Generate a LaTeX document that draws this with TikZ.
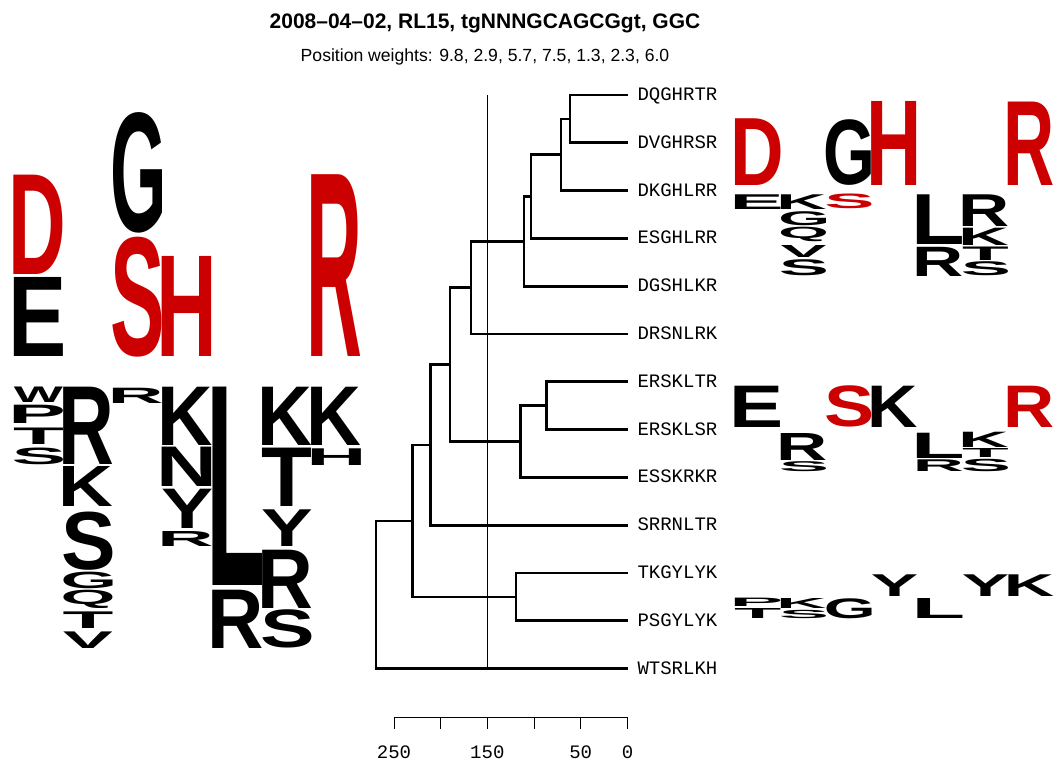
\documentclass[tikz,border=0pt]{standalone}
\usepackage{fontspec}
\setmainfont{Liberation Sans}
\setmonofont{Liberation Mono}
\tikzset{every picture/.style={line width=1pt}}
\definecolor{logo-red}{RGB}{204,0,0}

% letter trimmed to its ink
\newcommand{\inkletter}[1]{\hbox{\kern-\XeTeXglyphbounds1 \XeTeXcharglyph`#1\relax #1\kern-\XeTeXglyphbounds3 \XeTeXcharglyph`#1\relax}}
% name, x0, y0, x1, y1, colour, letter
\newcommand{\logoletter}[7]{%
  \pgfmathsetlengthmacro{\letw}{#4-#2}%
  \pgfmathsetlengthmacro{\leth}{#5-#3}%
  \node[letter, text=#6] (#1) at (#2,#5) {\resizebox*{\letw}{\leth}{\bfseries\inkletter{#7}}};}

\begin{document}
\begin{tikzpicture}
    [x=1pt, y=-1pt,
    letter/.style = {inner sep=0pt, outer sep=0pt, anchor=south west},
    leaf/.style = {anchor=west, inner sep=0pt, inner xsep=9pt, text height=11pt, text depth=0pt,
            font=\ttfamily\fontsize{19}{22}\selectfont},
    tick/.style = {anchor=base, inner sep=0pt, font=\ttfamily\fontsize{19}{22}\selectfont},
    branch/.style = {line width=2.7pt},
    ]

\useasboundingbox (0,0) rectangle (1056,760);

\node[font=\bfseries\fontsize{21}{25}\selectfont, anchor=base] (title) at (485,29) {2008--04--02, RL15, tgNNNGCAGCGgt, GGC};
\node[font=\fontsize{17.6}{21}\selectfont, anchor=base] (sub) at (485,62) {Position weights: 9.8, 2.9, 5.7, 7.5, 1.3, 2.3, 6.0};

% big logo
\logoletter{a1}{14}{175}{63}{274.3}{logo-red}{D}
\logoletter{a2}{14}{277.7}{63}{356.7}{black}{E}
\logoletter{a3}{113}{112.7}{162}{233.3}{black}{G}
\logoletter{a4}{113}{236.7}{162}{356.7}{logo-red}{S}
\logoletter{a5}{162.5}{256.7}{212}{356.7}{logo-red}{H}
\logoletter{a6}{312}{175}{361}{356.7}{logo-red}{R}

\logoletter{a7}{14}{387}{63}{402.5}{black}{W}
\logoletter{a8}{14}{405}{63}{423.3}{black}{P}
\logoletter{a9}{14}{427.5}{63}{444}{black}{T}
\logoletter{a10}{14}{448.3}{63}{465}{black}{S}
\logoletter{a11}{63.5}{386.7}{112.5}{464}{black}{R}
\logoletter{a12}{63.5}{466.7}{112.5}{506.7}{black}{K}
\logoletter{a13}{63.5}{511.7}{112.5}{570}{black}{S}
\logoletter{a14}{63.5}{571.7}{112.5}{588.3}{black}{G}
\logoletter{a15}{63.5}{590}{112.5}{608.3}{black}{Q}
\logoletter{a16}{63.5}{611.7}{112.5}{628.3}{black}{T}
\logoletter{a17}{63.5}{631.7}{112.5}{648.3}{black}{V}
\logoletter{a18}{113}{388}{162}{403.3}{black}{R}
\logoletter{a19}{162.5}{386.7}{212}{445}{black}{K}
\logoletter{a20}{162.5}{447.3}{212}{486.7}{black}{N}
\logoletter{a21}{162.5}{489}{212}{528.3}{black}{Y}
\logoletter{a22}{162.5}{531.7}{212}{546.7}{black}{R}
\logoletter{a23}{212.5}{386.7}{262}{585}{black}{L}
\logoletter{a24}{212.5}{590}{262}{648.3}{black}{R}
\logoletter{a25}{262.5}{386.7}{311.5}{445}{black}{K}
\logoletter{a26}{262.5}{448.3}{311.5}{506.7}{black}{T}
\logoletter{a27}{262.5}{510}{311.5}{546.7}{black}{Y}
\logoletter{a28}{262.5}{550}{311.5}{608.3}{black}{R}
\logoletter{a29}{262.5}{610}{311.5}{648.3}{black}{S}
\logoletter{a30}{312}{386.7}{361}{445}{black}{K}
\logoletter{a31}{312}{448.3}{361}{465}{black}{H}

% small logos
\logoletter{b1}{735}{119}{780.5}{185.7}{logo-red}{D}
\logoletter{b2}{826.5}{120}{871.5}{185.7}{black}{G}
\logoletter{b3}{872}{101.7}{917}{185.7}{logo-red}{H}
\logoletter{b4}{1008.5}{102.3}{1053.5}{185.7}{logo-red}{R}
\logoletter{b5}{735}{194.3}{780.5}{209}{black}{E}
\logoletter{b6}{781}{194.3}{826}{209}{black}{K}
\logoletter{b7}{781}{212}{826}{226}{black}{G}
\logoletter{b8}{781}{227.5}{826}{242}{black}{Q}
\logoletter{b9}{781}{245.5}{826}{257.5}{black}{V}
\logoletter{b10}{781}{260}{826}{276}{black}{S}
\logoletter{b11}{826.5}{194.3}{871.5}{209}{logo-red}{S}
\logoletter{b12}{917.5}{194.3}{962.5}{244}{black}{L}
\logoletter{b13}{917.5}{247.5}{962.5}{276.7}{black}{R}
\logoletter{b14}{963}{194.3}{1008}{226}{black}{R}
\logoletter{b15}{963}{228}{1008}{245.3}{black}{K}
\logoletter{b16}{963}{247}{1008}{260.5}{black}{T}
\logoletter{b17}{963}{262}{1008}{276}{black}{S}

\logoletter{c1}{735}{386}{780.5}{427.3}{black}{E}
\logoletter{c2}{826.5}{386}{871.5}{427.3}{logo-red}{S}
\logoletter{c3}{872}{386}{917}{427.3}{black}{K}
\logoletter{c4}{1008.5}{386}{1053.5}{427.3}{logo-red}{R}
\logoletter{c5}{781}{433}{826}{460}{black}{R}
\logoletter{c6}{781}{461.7}{826}{471.7}{black}{S}
\logoletter{c7}{917.5}{433}{962.5}{458.3}{black}{L}
\logoletter{c8}{917.5}{460}{962.5}{471.7}{black}{R}
\logoletter{c9}{963}{432}{1008}{447.3}{black}{K}
\logoletter{c10}{963}{448.3}{1008}{457.3}{black}{T}
\logoletter{c11}{963}{459.3}{1008}{471.7}{black}{S}

\logoletter{d1}{872}{575}{917}{596.7}{black}{Y}
\logoletter{d2}{963}{575}{1008}{596.7}{black}{Y}
\logoletter{d3}{1008.5}{575}{1053.5}{596.7}{black}{K}
\logoletter{d4}{735}{598.3}{780.5}{606.7}{black}{P}
\logoletter{d5}{735}{608.3}{780.5}{618.3}{black}{T}
\logoletter{d6}{781}{598.3}{826}{608.3}{black}{K}
\logoletter{d7}{781}{610}{826}{618.3}{black}{S}
\logoletter{d8}{826.5}{598.3}{871.5}{618.3}{black}{G}
\logoletter{d9}{917.5}{598.3}{962.5}{618.3}{black}{L}

% tree
\node[leaf] (l1) at (628,95) {DQGHRTR};
\node[leaf] (l2) at (628,142.8) {DVGHRSR};
\node[leaf] (l3) at (628,190.6) {DKGHLRR};
\node[leaf] (l4) at (628,238.4) {ESGHLRR};
\node[leaf] (l5) at (628,286.2) {DGSHLKR};
\node[leaf] (l6) at (628,334) {DRSNLRK};
\node[leaf] (l7) at (628,381.8) {ERSKLTR};
\node[leaf] (l8) at (628,429.6) {ERSKLSR};
\node[leaf] (l9) at (628,477.4) {ESSKRKR};
\node[leaf] (l10) at (628,525.2) {SRRNLTR};
\node[leaf] (l11) at (628,573) {TKGYLYK};
\node[leaf] (l12) at (628,620.8) {PSGYLYK};
\node[leaf] (l13) at (628,668.6) {WTSRLKH};

\coordinate (n1) at (570,118.9);
\coordinate (n2) at (561,154.75);
\coordinate (n3) at (531,196.6);
\coordinate (n4) at (524,241.4);
\coordinate (n5) at (471,287.7);
\coordinate (n6) at (546.7,405.7);
\coordinate (n7) at (520.7,441.55);
\coordinate (n8) at (450,364.6);
\coordinate (n9) at (430.7,444.9);
\coordinate (n10) at (516,596.9);
\coordinate (n11) at (412.7,520.9);
\coordinate (n12) at (376,594.75);

\draw (487.3,95) -- (487.3,668.6);

\draw[branch] (l1.west) -| (n1) |- (l2.west);
\draw[branch] (n1) -| (n2) |- (l3.west);
\draw[branch] (n2) -| (n3) |- (l4.west);
\draw[branch] (n3) -| (n4) |- (l5.west);
\draw[branch] (n4) -| (n5) |- (l6.west);
\draw[branch] (l7.west) -| (n6) |- (l8.west);
\draw[branch] (n6) -| (n7) |- (l9.west);
\draw[branch] (n5) -| (n8) |- (n7);
\draw[branch] (n8) -| (n9) |- (l10.west);
\draw[branch] (l11.west) -| (n10) |- (l12.west);
\draw[branch] (n9) -| (n11) |- (n10);
\draw[branch] (n11) -| (n12) |- (l13.west);

% axis
\draw (394,717.3) -- (627.5,717.3);
\draw (394,717.3) -- (394,729);
\draw (440.7,717.3) -- (440.7,729);
\draw (487.3,717.3) -- (487.3,729);
\draw (534,717.3) -- (534,729);
\draw (580.7,717.3) -- (580.7,729);
\draw (627.5,717.3) -- (627.5,729);
\node[tick] (t250) at (394,758) {250};
\node[tick] (t150) at (487.3,758) {150};
\node[tick] (t50) at (580.7,758) {50};
\node[tick] (t0) at (627.5,758) {0};

\end{tikzpicture}
\end{document}
